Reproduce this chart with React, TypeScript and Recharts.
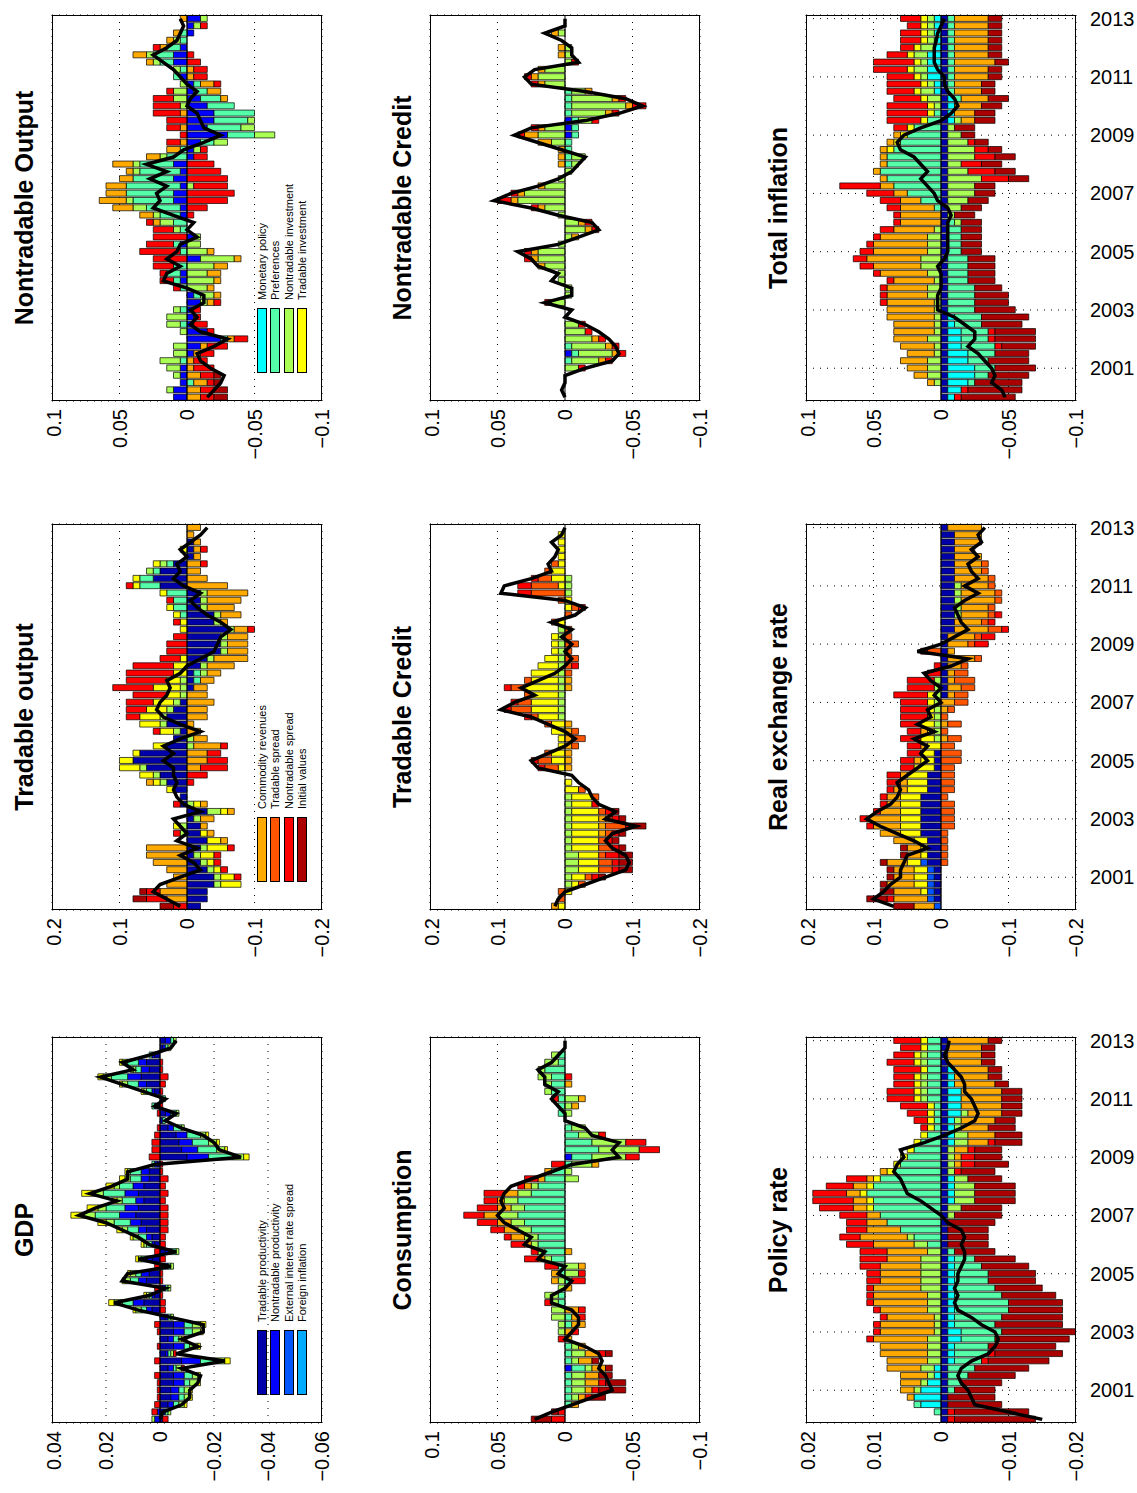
import React from "react";
import { ComposedChart, Bar, Line, XAxis, YAxis, CartesianGrid, ReferenceLine } from "recharts";

// shock keys, colours (jet, 12 steps) and legend labels
const KEYS = ["tp", "np", "es", "fi", "mp", "pr", "ni", "ti", "cr", "ts", "ns", "iv"];
const COLORS = ["#0000AA", "#0000FF", "#0055FF", "#00AAFF", "#00FFFF", "#55FFAA", "#AAFF55", "#FFFF00", "#FFAA00", "#FF5500", "#FF0000", "#AA0000"];
const LABELS = [
  "Tradable productivity", "Nontradable productivity", "External interest rate spread", "Foreign inflation",
  "Monetary policy", "Preferences", "Nontradable investment", "Tradable investment",
  "Commodity revenues", "Tradable spread", "Nontradable spread", "Initial values",
];

const YEARS = [2000, 2001, 2002, 2003, 2004, 2005, 2006, 2007, 2008, 2009, 2010, 2011, 2012, 2013];
const QUARTERS = YEARS.flatMap((y) => ["Q1", "Q2", "Q3", "Q4"].map((q) => `${y}${q}`)).slice(0, 53);
const YEAR_TICKS = ["2001Q1", "2003Q1", "2005Q1", "2007Q1", "2009Q1", "2011Q1", "2013Q1"];

// ---- GDP (units 0.001)
const gdpLine = [0,-1,-8,-11,-11,-14,-15,-8,-24,-6,-14,-8,-16,-16,-4,8,17,4,-2,14,12,-4,8,-6,4,8,14,20,30,24,16,26,18,12,12,2,-30,-22,-20,-16,-8,-2,-6,2,-2,6,14,22,10,14,4,-4,-6];
const gdpTp = [-1,-2,-3,-4,-4,-5,-5,-3,-8,-2,-5,-3,-5,-5,-2,3,6,2,-1,5,4,-2,3,-2,2,3,5,7,9,8,6,8,6,4,4,1,-10,-8,-7,-6,-3,-1,-2,1,-1,2,5,7,4,5,2,-1,-2];
const gdpNp = [2,1,-2,-3,-3,-4,-4,-2,-7,-1,-4,-2,-4,-4,-1,2,4,1,-1,3,3,-1,2,-2,1,2,3,4,6,5,3,5,4,3,3,1,-8,-6,-5,-4,-2,0,-2,1,0,1,3,5,3,3,1,-1,-2];
const gdpPr = [0,-1,-2,-2,-2,-2,-3,-1,-5,-1,-2,-2,-3,-3,-1,2,4,1,-1,3,2,-1,2,-2,2,3,4,6,9,7,5,8,5,4,4,1,-9,-7,-6,-5,-3,-1,-2,1,-1,2,4,6,2,4,1,-1,-1];
const gdpNi = [1,-1,-2,-2,-2,-3,-2,-2,-4,-1,-3,-1,-3,-3,-1,2,3,1,-1,2,2,-1,1,-1,1,2,2,3,4,3,2,3,2,2,1,0,-4,-3,-3,-2,-1,0,-1,0,0,1,2,3,1,2,0,-1,-1];
const gdpTi = [0,0,-1,-1,-1,-1,-1,0,-2,0,-1,-1,-1,-2,0,1,2,1,0,1,1,0,1,0,1,1,2,3,5,4,2,5,3,2,1,0,-2,-1,-1,-1,0,0,0,0,0,1,1,2,1,1,0,0,0];
const gdpNs = [-2,2,2,1,1,1,2,-1,2,-1,1,-1,1,2,0,-2,-2,-1,2,-1,-1,2,-2,2,-2,-2,-3,-3,-3,-3,-2,-3,-2,-3,-1,-1,4,3,3,2,1,0,1,-1,0,-1,-2,-3,-1,-1,0,0,0];

// ---- Tradable output (units 0.01)
const toLine = [1,3,5,4,1,-2,-1,1,-1.5,1.5,0,1,2,-2,0.5,1.5,2,1.5,2,2,3.5,2,3.5,1,-2,1,3.5,4.5,4,3,2.5,3,1,0,-2,-4,-4.5,-5,-6.5,-5,-3,-1.5,-0.5,-2,0.5,2,1,1.5,0,1,-0.5,-2,-3];
const toTp = [-2,-3,-3,-4,-4,-3,-2,-1,-2,-3,-2,-2,-1,-3,1,1,2,3,4,6,8,7,3,2,1,3,3,2,1,0,-1,-1,-1,-2,-3,-5,-5,-5,-6,-4,-4,-2,-2,-2,4,5,4,2,-1,-1,-1,0,0];
const toCr = [0,3,4,3,2,3,5,6,6,-1,-1,-1,-2,-1,-1,0,0,1,0,-2,-3,-3,-4,-2,-2,-1,-3,-3,-4,-3,-2,-2,-2,-4,-5,-3,-3,-3,-2,-1,-3,-4,-5,-6,-6,-3,-2,-2,-1,-1,-1,-1,-2];
const toTi = [0,0,0,-3,-2,-1,-1,-2,-3,-2,-1,1,0,-1,-1,0,1,1,2,3,2,1,2,0,2,3,3,3,3,2,4,2,2,2,1,0,0,0,1,1,1,1,0,1,1,1,0,1,0,1,0,0,0];
const toNs = [2,3,2,0,-1,-1,-1,-1,-1,0,1,0,0,0,1,0,0,-1,-3,-4,-3,-2,-1,0,1,0,2,3,4,5,6,6,7,6,3,3,3,2,-1,1,0,0,1,0,1,0,0,-1,0,-1,0,0,0];
const toIv = [2,2,1,0,0,0,0,0,0,0,0,0,0,0,0,0,0,0,0,0,0,0,0,0,0,0,0,0,0,0,0,0,0,0,0,0,0,0,0,0,0,0,0,0,0,0,0,0,0,0,0,0,0];
const toNi = [0,0,0,-1,-1,-1,-1,-1,-1,0,1,1,-1,-2,-1,0,0,1,1,1,0,0,-1,-1,1,1,1,1,1,1,1,1,-1,-1,-1,-1,-1,-1,-1,-1,-1,-1,-1,-1,0,0,1,1,0,0,0,0,0];
const toPr = [0,0,0,0,0,0,0,0,0,0,0,0,0,0,0,0,0,0,0,0,0,0,0,0,0,0,0,0,0,0,0,-1,-1,0,0,0,0,0,0,0,1,2,2,3,3,2,1,1,0,0,0,0,0];

// ---- Nontradable output (units 0.005)
const noLine = [-3,-4,-5,-5.5,-3.5,-2,-1.5,-4,-6,-2,-0.5,-1.5,-0.5,-2.5,-2.5,0,3.5,3,1,3,1.5,1,-1.5,0,-1,2,5,4,4.5,3,5.5,3,6,2,0.5,-2.5,-5,-2.5,-2,-1.5,0,-0.5,-1.5,0,1,2,3.5,5,3,1.5,1,0.5,1];
const noNp = [2,2,1,1,1,0,-1,-2,-5,-3,-1,-1,-1,-2,-1,0,1,1,0,-2,0,1,-1,0,0,1,1,2,2,1,2,1,2,-1,-1,-2,-6,-3,-4,-4,-3,-2,-1,-1,1,0,2,2,1,0,-1,-1,-2];
const noPr = [0,0,-1,0,0,1,0,0,-1,0,1,0,1,0,-1,1,1,2,2,0,1,1,0,1,2,3,5,6,7,8,6,6,5,3,1,-2,-4,-5,-5,-6,-4,-3,-2,-1,1,1,2,3,2,1,1,0,0];
const noNi = [0,1,0,1,2,3,2,2,0,1,2,3,1,-1,-2,-3,-4,-3,-4,-5,-3,-2,-1,1,2,1,2,1,0,-1,0,1,1,1,-1,-2,-3,-2,-1,0,1,2,2,1,0,1,1,1,0,1,0,-1,-1];
const noNs = [-2,-2,-1,-2,-3,-2,-2,-3,-2,-1,-2,-1,-1,-1,0,1,2,1,3,5,6,4,5,3,1,-1,-3,-6,-7,-5,-6,-5,-4,-2,-1,2,1,2,3,4,4,3,1,-1,-2,-2,-2,-1,1,0,0,-1,0];
const noCr = [-2,-2,-2,-2,-1,-1,-1,-1,-1,0,0,0,0,-1,-1,-1,-1,-2,-2,-1,-1,0,0,0,1,2,3,4,3,3,2,1,3,2,2,1,0,1,0,1,0,-1,-2,-2,-1,-1,1,2,1,1,1,0,1];
const noIv = [-2,-2,-1,-1,0,0,0,0,0,0,0,0,0,0,0,0,0,0,0,0,0,0,0,0,0,0,0,0,0,0,0,0,0,0,0,0,0,0,0,0,0,0,0,0,0,0,0,0,0,0,0,0,0];

// ---- Consumption (units 0.005)
const coLine = [4.5,2,-1,-4,-7,-6.5,-6,-5,-5.5,-5,-3,0,-1,-2,-2,-1,2,2,0,-1,1,0,4,3,6,5,7,9,10,9,9.5,9,8,5,2,-1,-8,-7,-8,-4,-3,0,0,1,2,1,3,3,4,2,1,0,0];
const coPr = [0,0,-1,-1,-1,-1,-1,-2,-1,-1,-1,0,0,-1,-1,0,1,1,0,-1,1,1,2,3,4,4,5,6,7,6,7,5,4,3,2,-1,-3,-5,-4,-2,-1,0,1,1,1,2,2,2,3,1,1,0,0];
const coNi = [0,0,0,-1,-2,-2,-2,-1,-1,-2,-1,0,1,1,2,2,1,2,1,1,-2,-2,1,1,1,2,2,2,3,2,2,2,1,-2,-1,-3,-5,-6,-5,-3,-2,0,-1,-1,-2,1,1,2,1,2,1,0,0];
const coNs = [2,1,0,-1,-1,-1,0,0,0,-1,0,1,-1,0,-1,-1,1,0,0,-2,-1,2,2,1,2,1,2,3,3,3,2,3,1,2,0,2,-2,-3,-3,-1,0,0,0,0,1,0,0,-1,0,0,0,0,0];
const coCr = [0,0,-1,-1,-1,-2,-2,-2,-2,-2,-1,-1,-1,-2,-1,-2,0,0,-1,1,1,-1,1,-1,1,2,2,2,2,2,1,2,1,1,1,-1,0,0,0,0,0,0,0,-1,-1,0,-1,0,0,0,0,0,0];
const coIv = [3,1,0,-2,-4,-3,-2,-1,-1,-1,0,0,0,0,0,0,0,0,0,0,0,0,0,0,0,0,0,0,0,0,0,0,0,0,0,0,0,0,0,0,0,0,0,0,0,0,0,0,0,0,0,0,0];
const coNp = [0,0,0,0,0,0,0,-1,0,0,0,0,0,0,0,0,0,0,0,0,0,0,0,0,0,0,0,0,0,0,0,0,0,0,0,0,-1,0,0,0,0,0,0,0,0,0,0,0,0,0,0,0,0];

// ---- Tradable credit (units 0.01)
const tcLine = [1.5,1,0,-3,-6,-9,-9.5,-9,-7,-6,-7,-10.5,-6,-7.5,-5,-4,-3.5,-2,-1,4,5,2.5,0,-1.5,0,2.5,5,9.5,7.5,4.5,6.5,4,1.5,0,-1,0,-1,0.5,-1,2,-1.5,-3,0,9.5,9,5,2,2.5,1.5,1,2,0.5,0];
const tcTi = [1,0,-1,-1,-2,-3,-3,-3,-4,-4,-4,-4,-4,-4,-3,-3,-2,-1,0,1,2,2,1,1,2,2,3,4,4,4,5,4,4,3,2,1,1,1,0,1,0,-1,-1,0,1,2,2,1,1,1,1,1,0];
const tcTs = [0,1,1,-1,-1,-2,-2,-1,-2,-1,-1,-3,-1,-1,0,-1,-1,0,0,2,2,1,-1,-2,-1,1,1,3,2,1,2,1,-1,-1,-2,-1,-2,-1,-1,1,-1,-1,1,5,4,2,1,1,0,0,0,0,0];
const tcNi = [0,0,0,-1,-1,-2,-2,-2,-1,-1,-1,-1,-1,-1,-1,-1,0,0,0,0,0,0,0,0,0,0,1,1,1,1,1,1,1,1,1,1,1,1,1,0,0,0,0,-1,-1,-1,0,0,0,0,0,0,0];
const tcNs = [0,0,0,0,-1,-1,-1,-2,-1,-1,-1,-1,-1,-1,-1,0,0,0,0,1,1,0,0,0,0,0,1,1,1,0,1,0,0,-1,0,0,0,0,0,0,0,-1,0,2,2,1,0,0,0,0,0,0,0];
const tcIv = [0,0,0,0,-1,-2,-2,-2,-1,-1,-1,-2,-1,-1,0,0,0,0,0,0,0,0,0,0,0,0,0,0,0,0,0,0,0,0,0,0,0,0,0,0,0,0,0,0,0,0,0,0,0,0,0,0,0];
const tcCr = [1,0,0,0,0,0,0,0,0,0,-1,-1,-1,0,0,0,0,0,0,-1,-1,-1,-1,-1,-1,-1,0,0,0,0,-1,-1,0,0,0,0,0,0,0,0,0,0,0,0,0,0,0,0,0,0,0,0,0];

// ---- Nontradable credit (units 0.005)
const ncLine = [0,0.5,0,0,-3,-7,-8,-7.5,-6.5,-5,-3,0,-1,3,-1,-1,2,1,4,5,7,1,-2,-5,-4,1,5,10.5,8,4,1,-1,-2,-3,0.5,4,7.5,5,-3,-8,-11.5,-9,-3,5,6,4.5,-2,-1,-1,0.5,3,0,0];
const ncNi = [0,0,0,0,-2,-4,-5,-5,-4,-3,-2,0,0,2,-1,-1,1,1,3,4,4,1,-1,-3,-2,1,3,7,6,3,1,-1,-1,-2,0,2,4,3,-2,-5,-8,-6,-2,3,4,3,-1,-1,-1,0,1,0,0];
const ncCr = [0,0,0,0,0,-1,-1,-1,-1,0,0,0,0,0,0,0,0,0,1,1,1,0,-1,-1,-1,0,1,1,1,1,0,0,1,1,1,2,2,1,0,-1,-1,-1,-1,1,1,1,0,1,1,0,1,0,0];
const ncNs = [0,0,0,0,-1,-1,-1,-1,-1,-1,-1,0,0,1,0,0,0,0,0,1,1,0,0,-1,-1,0,1,2,1,0,0,0,0,0,0,0,1,1,-1,-1,-2,-1,0,1,1,0,-1,0,0,0,0,0,0];
const ncPr = [0,0,0,0,0,-1,-1,-1,0,0,0,0,0,0,0,0,0,0,0,0,0,0,0,0,0,0,0,0,0,0,0,0,-1,-1,-1,-1,-1,-1,-1,-1,-1,-1,-1,0,0,0,0,0,0,0,0,0,0];
const ncNp = [0,0,0,0,0,0,-1,0,0,0,0,0,0,0,0,0,0,0,0,0,0,0,0,0,0,0,0,0,0,0,0,0,0,0,0,0,-1,-1,-1,0,0,0,0,0,0,0,0,0,0,0,0,0,0];

// ---- Policy rate (units 0.001)
const prLine = [-15,-10,-5,-4.5,-4,-3,-2.5,-3,-4.5,-7,-8,-8.5,-8,-6,-4.5,-2.5,-2,-2.5,-2,-2.5,-2.5,-3,-3.5,-3.5,-3,-3.5,-3,-1,0,1.5,3,5,5.5,6,7,6.5,5.5,6,2.5,-0.5,-3,-5,-5.5,-5,-4.5,-3.5,-3.5,-3,-2,-1,-0.5,-1,-1.2];
const prMp = [0,0,3,4,3,2,1,1,-1,-1,-1,-2,-2,-1,-1,-1,-1,-1,-1,-1,-1,-1,-1,0,0,0,0,0,0,0,-1,-1,-1,-1,0,0,0,0,-1,-1,-1,-1,-2,-2,-2,-2,-1,-1,-1,0,0,0,0];
const prPr = [0,1,1,0,-1,-2,-3,-4,-4,-5,-5,-5,-6,-6,-7,-8,-8,-7,-6,-5,-5,-4,-3,-1,2,4,6,8,9,10,10,11,10,9,7,6,5,4,3,2,1,1,1,1,2,2,2,2,2,2,2,2,2];
const prCr = [0,0,0,1,2,3,4,5,6,7,7,8,8,8,7,7,8,8,7,6,6,6,5,6,6,7,5,3,2,2,2,2,2,1,1,-1,-1,-2,-3,-4,-4,-5,-5,-6,-6,-6,-6,-5,-5,-5,-5,-5,-6];
const prNi = [0,0,0,0,1,1,1,2,2,2,2,2,1,1,1,2,2,2,3,3,3,3,3,2,2,1,0,0,-1,-2,-3,-3,-3,-2,-1,-1,-1,-1,-2,-2,-1,-1,-1,0,1,1,1,1,0,1,1,0,0];
const prNs = [-1,-1,0,0,0,0,0,0,-1,-1,0,1,1,1,1,1,1,1,1,2,2,3,4,4,4,3,3,3,4,5,6,5,4,3,-1,-2,-2,-1,-1,0,1,2,3,4,4,4,3,3,4,4,3,3,4];
const prTi = [0,0,0,0,0,0,0,0,0,0,0,0,0,0,0,0,0,0,0,0,0,0,0,0,0,0,0,0,0,1,1,1,1,1,1,1,1,1,1,1,1,1,1,1,1,1,1,1,1,1,1,1,1];
const prIv = [-12,-11,-8,-7,-6,-6,-7,-8,-9,-10,-10,-11,-11,-10,-9,-8,-8,-8,-7,-7,-7,-7,-6,-6,-6,-6,-6,-7,-7,-6,-6,-6,-6,-5,-5,-5,-4,-4,-4,-4,-4,-3,-3,-3,-3,-3,-2,-2,-2,-2,-2,-2,-2];
const prTp = [-1,-1,-1,-1,-1,-1,-1,-1,-1,-1,-1,-1,-1,-1,-1,-1,-1,-1,-1,-1,-1,-1,-1,-1,-1,-1,-1,-1,-1,-1,-1,-1,-1,-1,-1,-1,-1,-1,-1,-1,-1,-1,-1,-1,-1,-1,-1,-1,-1,-1,-1,-1,-1];

// ---- Real exchange rate (units 0.01)
const rxLine = [7,10,8.5,7.5,6,6,5.5,5,2,4,6.5,9,11,9.5,7.5,6.5,6,6.5,5,3.5,2,3,2,4,1,3.5,1.5,2,0,1,0,1.5,2.5,-1.5,-4,3.5,0,-2,-4,-3,-2.5,-2,-3.5,-5.5,-3.5,-5.5,-4.5,-4,-5.5,-4.5,-6,-5.5,-6.5];
const rxCr = [3,5,4,4,3,3,3,2,2,3,3,4,5,3,2,2,2,1,1,0,1,0,1,-1,1,-1,0,-1,-2,-1,-2,-1,-1,-2,-4,-1,-3,-4,-5,-4,-4,-4,-5,-5,-4,-5,-4,-4,-4,-3,-4,-4,-5];
const rxTi = [0,0,1,2,2,2,2,1,1,2,3,3,3,3,3,3,3,3,3,3,2,2,2,2,1,2,1,1,1,1,0,0,0,0,0,0,0,0,0,0,0,0,0,0,0,0,0,0,0,0,0,0,0];
const rxTp = [0,1,1,1,1,1,2,2,2,2,3,3,3,3,3,3,2,2,2,1,1,1,0,0,0,0,0,0,0,-1,-1,-1,-1,-1,-1,-1,-1,-1,-2,-2,-2,-2,-2,-2,-2,-2,-2,-2,-2,-2,-2,-2,-1];
const rxEs = [1,1,1,1,1,1,1,0,0,0,0,0,0,0,0,0,0,0,0,0,0,0,0,0,0,0,0,0,0,0,0,0,0,0,0,0,0,0,0,0,0,0,0,0,0,0,0,0,0,0,0,0,0];
const rxNs = [0,1,0,0,0,0,0,0,0,0,0,1,1,1,1,1,1,2,2,2,2,2,2,3,2,3,4,4,4,5,4,4,2,1,0,1,-2,-2,-1,-1,-1,0,0,0,0,0,0,0,0,0,0,0,0];
const rxTs = [0,0,0,0,0,0,-1,-1,-1,-1,-1,-2,-2,-2,-2,-1,-2,-2,-2,-2,-3,-3,-2,-2,-1,-2,-1,-1,-2,-2,-2,-3,-2,-1,-1,2,-1,-1,-2,-1,-1,-1,-1,-1,-1,-1,-1,-1,0,0,0,0,0];
const rxIv = [3,3,2,1,1,1,1,1,1,0,0,0,0,0,0,0,0,0,0,0,0,0,0,0,0,0,0,0,0,0,0,0,0,0,0,0,0,0,0,0,0,0,0,0,0,0,0,0,0,0,0,0,0];
const rxNi = [0,0,0,0,0,0,0,0,0,0,0,0,0,0,0,0,0,0,0,0,0,0,0,1,1,1,1,1,1,1,1,1,0,0,0,0,0,0,0,0,-1,-1,-1,-1,-1,0,0,0,0,0,0,0,0];

// ---- Total inflation (units 0.005)
const tiLine = [-9.5,-9,-7.5,-8,-7.5,-6.5,-5.5,-4,-5,-5,-3.5,-2,0.5,0.5,0.5,0,0,0,0.5,-0.5,-1,-1,-1,-1,-1,-1.5,-1,0.5,1,2,3,2,3,4,6,6.5,5.5,3,0,-1.5,-2.5,-2,-1,-0.5,-0.5,0.5,1,1,1,0.7,0.5,0,-0.5];
const tiIv = [-8,-8,-7,-6,-6,-6,-5,-5,-6,-6,-6,-7,-6,-5,-5,-4,-4,-4,-4,-4,-3,-3,-3,-3,-3,-3,-3,-3,-3,-3,-3,-3,-3,-3,-2,-2,-2,-3,-3,-3,-3,-3,-2,-2,-2,-2,-2,-2,-2,-2,-2,-2,-2];
const tiCr = [0,0,1,2,3,4,4,5,5,6,6,7,7,7,6,6,6,7,7,8,8,8,7,6,6,6,5,3,2,2,1,1,1,1,1,1,1,0,-2,-3,-4,-4,-4,-4,-5,-5,-6,-5,-5,-5,-5,-5,-5];
const tiPr = [0,0,-1,-2,-3,-3,-4,-5,-4,-4,-4,-4,-4,-4,-4,-4,-3,-3,-3,-3,-2,-2,-2,-2,-1,0,1,3,5,7,8,9,8,8,7,6,5,4,2,1,0,-1,-1,-1,-1,-1,-1,-1,-1,-1,-1,-1,-1];
const tiMp = [-1,-2,-3,-4,-4,-3,-3,-2,-2,-2,-1,-1,0,0,0,0,0,0,0,0,0,0,0,0,0,0,0,0,0,0,0,0,0,0,0,0,0,0,-1,-1,-1,-1,1,1,2,2,2,2,1,1,1,1,1];
const tiNi = [0,0,1,2,2,2,1,1,2,1,1,1,1,1,2,2,1,2,3,3,2,2,2,1,-1,-1,-2,-3,-4,-4,-5,-3,-2,-4,-4,-3,-2,-1,-1,0,1,2,2,1,1,2,1,2,2,1,1,1,1];
const tiNs = [-1,-1,0,0,0,0,0,-1,-1,-1,0,0,0,1,1,1,1,1,2,2,2,1,1,2,1,1,2,3,4,6,-4,-4,-3,-3,-2,-1,0,2,5,6,6,4,4,5,4,5,6,3,2,3,3,2,3];
const tiTi = [0,0,0,0,0,0,0,0,0,0,0,0,0,0,0,0,0,0,0,0,0,0,0,0,0,0,0,0,0,0,0,0,0,0,1,1,1,1,1,1,1,1,1,1,1,1,1,1,1,1,1,1,1];
const tiTp = [-1,-1,-1,-1,-1,-1,-1,-1,-1,-1,-1,-1,-1,-1,-1,-1,-1,-1,-1,-1,-1,-1,-1,-1,-1,-1,-1,-1,-1,-1,-1,-1,-1,-1,-1,-1,-1,-1,-1,-1,-1,-1,-1,-1,-1,-1,-1,-1,-1,-1,-1,-1,-1];

const TICKS_A = [-0.06, -0.04, -0.02, 0, 0.02, 0.04];
const TICKS_B = [-0.2, -0.1, 0, 0.1, 0.2];
const TICKS_C = [-0.1, -0.05, 0, 0.05, 0.1];
const TICKS_D = [-0.02, -0.01, 0, 0.01, 0.02];

type Panel = {
  title: string; unit: number; ticks: number[]; line: number[];
  series: Record<string, number[]>; col: number; row: number; legend?: number[];
};

const PANELS: Panel[] = [
  { title: "GDP", unit: 0.001, ticks: TICKS_A, line: gdpLine, col: 0, row: 0, legend: [0, 1, 2, 3],
    series: { tp: gdpTp, np: gdpNp, pr: gdpPr, ni: gdpNi, ti: gdpTi, ns: gdpNs } },
  { title: "Tradable output", unit: 0.01, ticks: TICKS_B, line: toLine, col: 1, row: 0, legend: [8, 9, 10, 11],
    series: { tp: toTp, pr: toPr, ni: toNi, ti: toTi, cr: toCr, ns: toNs, iv: toIv } },
  { title: "Nontradable Output", unit: 0.005, ticks: TICKS_C, line: noLine, col: 2, row: 0, legend: [4, 5, 6, 7],
    series: { np: noNp, pr: noPr, ni: noNi, cr: noCr, ns: noNs, iv: noIv } },
  { title: "Consumption", unit: 0.005, ticks: TICKS_C, line: coLine, col: 0, row: 1,
    series: { np: coNp, pr: coPr, ni: coNi, cr: coCr, ns: coNs, iv: coIv } },
  { title: "Tradable Credit", unit: 0.01, ticks: TICKS_B, line: tcLine, col: 1, row: 1,
    series: { ni: tcNi, ti: tcTi, cr: tcCr, ts: tcTs, ns: tcNs, iv: tcIv } },
  { title: "Nontradable Credit", unit: 0.005, ticks: TICKS_C, line: ncLine, col: 2, row: 1,
    series: { np: ncNp, pr: ncPr, ni: ncNi, cr: ncCr, ns: ncNs } },
  { title: "Policy rate", unit: 0.001, ticks: TICKS_D, line: prLine, col: 0, row: 2,
    series: { tp: prTp, mp: prMp, pr: prPr, ni: prNi, ti: prTi, cr: prCr, ns: prNs, iv: prIv } },
  { title: "Real exchange rate", unit: 0.01, ticks: TICKS_B, line: rxLine, col: 1, row: 2,
    series: { tp: rxTp, es: rxEs, ni: rxNi, ti: rxTi, cr: rxCr, ts: rxTs, ns: rxNs, iv: rxIv } },
  { title: "Total inflation", unit: 0.005, ticks: TICKS_C, line: tiLine, col: 2, row: 2,
    series: { tp: tiTp, mp: tiMp, pr: tiPr, ni: tiNi, ti: tiTi, cr: tiCr, ns: tiNs, iv: tiIv } },
];

const PLOT_X = [70, 583, 1092];
const PLOT_Y = [52, 430, 806];
const PW = 386;
const PH = 270;
const ML = 72;
const MR = 6;
const MT = 10;
const XH = 60;
const FONT = "'Liberation Sans', Arial, sans-serif";

const fmt = (v: number) => (v === 0 ? "0" : String(v).replace("-", "\u2212"));

// year labels stay upright once the whole figure is turned, so they are turned back here
function YearTick(props: any) {
  const { x, y, payload } = props;
  return (
    <text x={x} y={y} transform={`rotate(90 ${x} ${y})`} dx={6} dy={7} textAnchor="start"
      fill="#000" fontSize={20} fontFamily={FONT}>
      {String(payload.value).slice(0, 4)}
    </text>
  );
}

function PanelChart({ p }: { p: Panel }) {
  const data = QUARTERS.map((q, i) => {
    const row: Record<string, number | string> = { q, total: (p.line[i] ?? 0) * p.unit };
    KEYS.forEach((k) => {
      const arr = p.series[k];
      row[k] = arr ? (arr[i] ?? 0) * p.unit : 0;
    });
    return row;
  });
  const lo = p.ticks[0];
  const hi = p.ticks[p.ticks.length - 1];
  const left = PLOT_X[p.col];
  const top = PLOT_Y[p.row];
  const showYears = p.row === 2;
  return (
    <>
      <div style={{ position: "absolute", left, top: top - 42, width: PW, textAlign: "center", fontFamily: FONT, fontWeight: "bold", fontSize: 25 }}>
        {p.title}
      </div>
      <div style={{ position: "absolute", left: left - ML, top: top - MT }}>
        <ComposedChart width={PW + ML + MR} height={PH + MT + XH} data={data} stackOffset="sign"
          barCategoryGap="12%" margin={{ top: MT, right: MR, bottom: 0, left: 0 }}>
          <CartesianGrid stroke="#000" strokeDasharray="1 6" />
          <XAxis dataKey="q" ticks={YEAR_TICKS} interval={0} height={XH} tickLine={false} axisLine={false}
            tick={showYears ? <YearTick /> : false} />
          <YAxis type="number" domain={[lo, hi]} ticks={p.ticks} width={ML} tickLine={false} axisLine={false}
            allowDataOverflow tick={{ fill: "#000", fontSize: 20, fontFamily: FONT }} tickFormatter={fmt} />
          {KEYS.map((k, j) => (
            <Bar key={k} dataKey={k} stackId="s" fill={COLORS[j]} stroke="#000" strokeWidth={0.7} isAnimationActive={false} />
          ))}
          <ReferenceLine y={0} stroke="#000" strokeWidth={1} />
          <Line type="linear" dataKey="total" stroke="#000" strokeWidth={3.5} dot={false} isAnimationActive={false} />
        </ComposedChart>
      </div>
      <div style={{ position: "absolute", left, top, width: PW, height: PH, border: "1.5px solid #000", boxSizing: "border-box", pointerEvents: "none" }} />
      {p.legend && (
        <div style={{ position: "absolute", left: left + 28, top: top + 203, fontFamily: FONT, fontSize: 11 }}>
          {p.legend.map((j) => (
            <div key={j} style={{ display: "flex", alignItems: "center", height: 13.5 }}>
              <div style={{ width: 65, height: 10, background: COLORS[j], border: "1px solid #000", boxSizing: "border-box" }} />
              <span style={{ marginLeft: 8, whiteSpace: "nowrap" }}>{LABELS[j]}</span>
            </div>
          ))}
        </div>
      )}
    </>
  );
}

export default function App() {
  return (
    <div style={{ position: "absolute", left: 0, top: 0, width: 1137, height: 1493, background: "#fff", overflow: "hidden" }}>
      <div style={{ position: "absolute", left: 0, top: 0, width: 1493, height: 1137, transformOrigin: "0 0", transform: "translate(0px, 1493px) rotate(-90deg)" }}>
        {PANELS.map((p) => (
          <PanelChart key={p.title} p={p} />
        ))}
      </div>
    </div>
  );
}
